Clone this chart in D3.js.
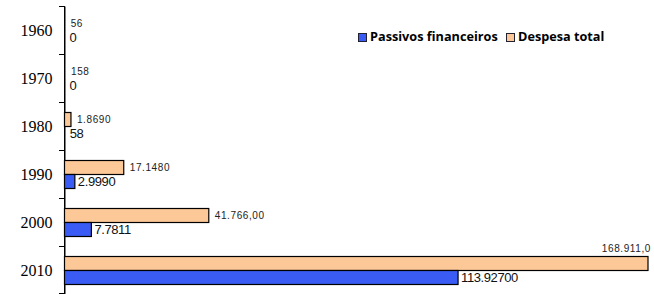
<!DOCTYPE html>
<html>
<head>
<meta charset="utf-8">
<script src="https://cdn.jsdelivr.net/npm/d3@7"></script>
<style>
  body { margin: 0; background: #fff; }
  svg { display: block; }
</style>
</head>
<body>
<div id="chart"></div>
<script>
// data
const years = ["1960", "1970", "1980", "1990", "2000", "2010"];
const despesa = [56, 158, 1869, 17148, 41766, 168911];
const passivos = [0, 0, 58, 2999, 7781, 113927];
const despesaLabels = ["56", "158", "1.8690", "17.1480", "41.766,00", "168.911,0"];
const passivosLabels = ["0", "0", "58", "2.9990", "7.7811", "113.92700"];
const seriesNames = ["Passivos financeiros", "Despesa total"];

const width = 654;
const height = 294;
const blue = "#3a5cf5";
const orange = "#fdc897";

const svg = d3.select("#chart")
  .append("svg")
  .attr("width", width)
  .attr("height", height);

const x = d3.scaleLinear().domain([0, 168911]).range([64.5, 648]);
const y = d3.scaleBand().domain(years).range([6, 294]).paddingInner(0).paddingOuter(0);
const barH = 14;

// axis
const axis = svg.append("g")
  .attr("transform", `translate(64.5,0)`)
  .call(d3.axisLeft(y).tickSize(0).tickPadding(12));
axis.select(".domain").attr("stroke", "#000");
axis.selectAll("text")
  .attr("font-family", "Liberation Serif, serif")
  .attr("font-size", 16)
  .attr("dy", "0.4em")
  .attr("fill", "#000");
// tick marks between categories
svg.append("g")
  .selectAll("line")
  .data(years.concat(["end"]))
  .enter()
  .append("line")
  .attr("x1", 59)
  .attr("x2", 64.5)
  .attr("y1", (d, i) => Math.round(i < years.length ? y(d) : y.range()[1] - 1) + 0.5)
  .attr("y2", (d, i) => Math.round(i < years.length ? y(d) : y.range()[1] - 1) + 0.5)
  .attr("stroke", "#000");

const groups = svg.append("g")
  .selectAll("g")
  .data(years)
  .enter()
  .append("g");

const mid = (d) => y(d) + y.bandwidth() / 2;

// despesa total bars (upper)
groups.append("rect")
  .attr("x", x(0))
  .attr("y", (d) => mid(d) - barH + 0.5)
  .attr("width", (d, i) => x(despesa[i]) - x(0))
  .attr("height", barH)
  .attr("fill", orange)
  .attr("stroke", (d, i) => despesa[i] > 500 ? "#000" : "none")
  .attr("stroke-width", 1.2);

// passivos bars (lower)
groups.append("rect")
  .attr("x", x(0))
  .attr("y", (d) => mid(d) + 0.5)
  .attr("width", (d, i) => x(passivos[i]) - x(0))
  .attr("height", barH)
  .attr("fill", blue)
  .attr("stroke", (d, i) => passivos[i] > 500 ? "#000" : "none")
  .attr("stroke-width", 1.2);

// redraw axis line on top
svg.append("line")
  .attr("x1", 64.5).attr("x2", 64.5)
  .attr("y1", 6).attr("y2", 294)
  .attr("stroke", "#000");

// labels
groups.append("text")
  .attr("x", (d, i) => i === years.length - 1 ? 651 : x(despesa[i]) + 6)
  .attr("y", (d, i) => i === years.length - 1 ? mid(d) - 21 : mid(d) - 6)
  .attr("text-anchor", (d, i) => i === years.length - 1 ? "end" : "start")
  .attr("dominant-baseline", "middle")
  .attr("font-family", "Liberation Sans, Arial, sans-serif")
  .attr("font-size", 10)
  .attr("letter-spacing", 0.6)
  .attr("fill", "#222")
  .text((d, i) => despesaLabels[i]);

groups.append("text")
  .attr("x", (d, i) => x(passivos[i]) + (passivos[i] > 500 ? 3 : 5))
  .attr("y", (d) => mid(d) + 9)
  .attr("dominant-baseline", "middle")
  .attr("font-family", "Liberation Sans Narrow, Liberation Sans, Arial, sans-serif")
  .attr("font-size", 13)
  .attr("letter-spacing", -0.4)
  .attr("fill", "#111")
  .text((d, i) => passivosLabels[i]);

// legend
const legend = svg.append("g").attr("transform", "translate(358,37)");
const legendColors = [blue, orange];
const legendX = [0, 148];
seriesNames.forEach((name, i) => {
  legend.append("rect")
    .attr("x", legendX[i] + 0.5)
    .attr("y", -3.5)
    .attr("width", 8)
    .attr("height", 8)
    .attr("fill", legendColors[i])
    .attr("stroke", "#223");
  legend.append("text")
    .attr("x", legendX[i] + 12)
    .attr("y", 1)
    .attr("dominant-baseline", "middle")
    .attr("font-family", "Open Sans, sans-serif")
    .attr("font-weight", "bold")
    .attr("font-size", 12.7)
    .attr("fill", "#000")
    .text(name);
});
</script>
</body>
</html>
